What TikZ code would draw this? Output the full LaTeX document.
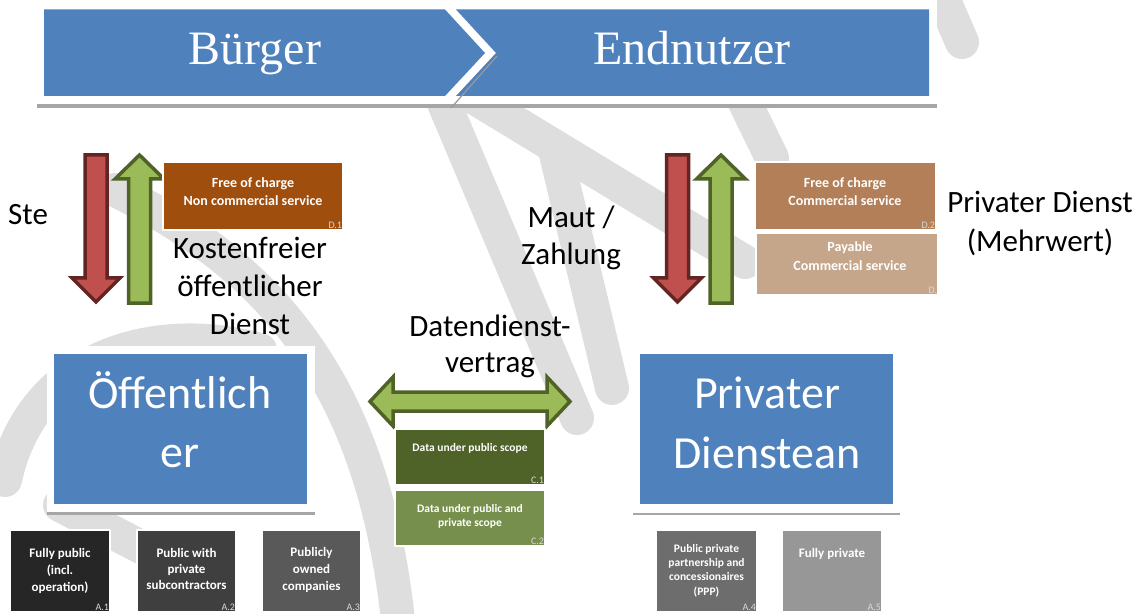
\documentclass[tikz,border=0pt]{standalone}
\usepackage{fontspec}
\setmainfont{Carlito}
\newfontfamily\bannerfont{Liberation Serif}
\definecolor{blue0}{HTML}{4F81BD}
\definecolor{redfill}{HTML}{C0504D}
\definecolor{redline}{HTML}{632523}
\definecolor{greenfill}{HTML}{9BBB59}
\definecolor{greenline}{HTML}{4F6228}
\definecolor{d1fill}{HTML}{A04E0E}
\definecolor{d2fill}{HTML}{B27F58}
\definecolor{d3fill}{HTML}{C6A68B}
\definecolor{c1fill}{HTML}{4F6228}
\definecolor{c2fill}{HTML}{778F4D}
\definecolor{a1fill}{HTML}{262626}
\definecolor{a2fill}{HTML}{3F3F3F}
\definecolor{a3fill}{HTML}{595959}
\definecolor{a4fill}{HTML}{6D6D6D}
\definecolor{a5fill}{HTML}{979797}
\definecolor{wmark}{HTML}{DEDEDE}
\begin{document}
\begin{tikzpicture}[x=1bp,y=-1bp,line join=bevel,
  wm/.style={draw=wmark,line width=34bp,line cap=round},
  tile/.style={draw=white,line width=1.5bp,inner sep=0pt},
  tiletext/.style={text=white,align=center,anchor=base,inner sep=0pt},
  tag/.style={text=white!85!black,font=\fontsize{10bp}{10bp}\selectfont,anchor=south east,inner sep=1.5bp},
  bigtext/.style={text=black,align=center,anchor=base,inner sep=0pt,font=\fontsize{31bp}{38bp}\selectfont},
  redarrow/.style={fill=redfill,draw=redline,line width=3.5bp,line join=miter},
  greenarrow/.style={fill=greenfill,draw=greenline,line width=3.5bp,line join=miter},
]
\useasboundingbox (0,0) rectangle (1143,614);
%% watermark
\draw [wm] (115,190) .. controls (300,280) and (380,420) .. (400,640);
\draw [wm] (5,480) .. controls (30,360) and (150,320) .. (260,350);
\draw [wm] (60,505) -- (205,580);
\draw [wm] (430,70) -- (577,418);
\draw [wm] (470,95) -- (745,262);
\draw [wm] (555,150) -- (612,388);
\draw [wm] (690,-10) -- (772,158);
\draw [wm] (935,-20) -- (962,42);
\draw [wm] (590,-20) -- (610,30);
%% banner
\fill [gray!70] (37,100) rectangle (937,108);
\fill [white] (37,-5) rectangle (937,104);
\fill [blue0] (44,9.5) -- (445,9.5) -- (485,53) -- (445,96) -- (44,96) -- cycle;
\fill [blue0] (456,9.5) -- (929,9.5) -- (929,96) -- (456,96) -- (496,53) -- cycle;
\draw [gray!80,line width=1.2bp] (497,56) -- (451,108);
\node (buerger) at (255,65) [text=white,anchor=base,inner sep=0pt,font=\bannerfont\fontsize{48bp}{48bp}\selectfont] {Bürger};
\node (endnutzer) at (692,65) [text=white,anchor=base,inner sep=0pt,font=\bannerfont\fontsize{48bp}{48bp}\selectfont] {Endnutzer};
%% arrows between users and providers
\draw [redarrow,shift={(96,0)}] (-11,155) -- (11,155) -- (11,278) -- (24,278) -- (0,302) -- (-24,278) -- (-11,278) -- cycle;
\draw [greenarrow,shift={(139.5,0)}] (-11,303) -- (11,303) -- (11,179) -- (24.5,179) -- (0,155) -- (-24.5,179) -- (-11,179) -- cycle;
\draw [redarrow,shift={(677.5,0)}] (-11,155) -- (11,155) -- (11,278) -- (24,278) -- (0,302) -- (-24,278) -- (-11,278) -- cycle;
\draw [greenarrow,shift={(721,0)}] (-11,303) -- (11,303) -- (11,179) -- (24.5,179) -- (0,155) -- (-24.5,179) -- (-11,179) -- cycle;
%% service tiles
\node (d_1) at (253,196) [tile,fill=d1fill,minimum width=180bp,minimum height=68bp] {};
\node (d_1_text) at (253,206) [tiletext,font=\bfseries\fontsize{14bp}{18bp}\selectfont] {Free of charge\\Non commercial service};
\node (d_1_tag) at (d_1.south east) [tag] {D.1};
\node (d_2) at (845.5,196) [tile,fill=d2fill,minimum width=181bp,minimum height=68bp] {};
\node (d_2_text) at (845,206) [tiletext,font=\bfseries\fontsize{14bp}{18bp}\selectfont] {Free of charge\\Commercial service};
\node (d_2_tag) at (d_2.south east) [tag] {D.2};
\node (d_3) at (847,264) [tile,fill=d3fill,minimum width=182bp,minimum height=62bp] {};
\node (d_3_text) at (850,271) [tiletext,font=\bfseries\fontsize{14bp}{19bp}\selectfont] {Payable\\Commercial service};
\node (d_3_tag) at (d_3.south east) [tag] {D.};
%% labels
\node (ste) at (8,225) [bigtext,anchor=base west] {Ste};
\node (kostenfrei) at (250,335) [bigtext] {Kostenfreier\\öffentlicher\\Dienst};
\node (maut) at (571,265) [bigtext,font=\fontsize{31bp}{37bp}\selectfont] {Maut /\\Zahlung};
\node (mehrwert) at (1040,252) [bigtext,font=\fontsize{31bp}{39bp}\selectfont] {Privater Dienst\\(Mehrwert)};
\node (vertrag) at (490,372) [bigtext,font=\fontsize{31bp}{35bp}\selectfont] {Datendienst-\\vertrag};
%% providers
\fill [gray!70] (47,505) rectangle (315,515);
\node (oeff_frame) at (181,429) [fill=white,inner sep=0pt,minimum width=268bp,minimum height=166bp] {};
\node (oeff) at (180.5,429) [fill=blue0,inner sep=0pt,minimum width=253bp,minimum height=150bp] {};
\node (oeff_text) at (180,467) [tiletext,font=\fontsize{46bp}{59bp}\selectfont] {Öffentlich\\er};
\fill [gray!70] (633,505) rectangle (900,515);
\node (priv_frame) at (766.5,431) [fill=white,inner sep=0pt,minimum width=267bp,minimum height=163bp] {};
\node (priv) at (766.5,429) [fill=blue0,inner sep=0pt,minimum width=253bp,minimum height=150bp] {};
\node (priv_text) at (767,468) [tiletext,font=\fontsize{46bp}{60bp}\selectfont] {Privater\\Dienstean};
%% data contract
\draw [greenarrow] (370,401.5) -- (393,377) -- (393,392) -- (547,392) -- (547,377) -- (570,401.5) -- (547,426) -- (547,411) -- (393,411) -- (393,426) -- cycle;
\node (c_1) at (470,457) [tile,fill=c1fill,minimum width=150bp,minimum height=56bp] {};
\node (c_1_text) at (470,451) [tiletext,font=\bfseries\fontsize{11.5bp}{14bp}\selectfont] {Data under public scope};
\node (c_1_tag) at (c_1.south east) [tag] {C.1};
\node (c_2) at (470,518) [tile,fill=c2fill,minimum width=150bp,minimum height=56bp] {};
\node (c_2_text) at (470,526) [tiletext,font=\bfseries\fontsize{11.5bp}{14bp}\selectfont] {Data under public and\\private scope};
\node (c_2_tag) at (c_2.south east) [tag] {C.2};
%% operator models
\node (a_1) at (60,571) [tile,fill=a1fill,minimum width=100bp,minimum height=82bp] {};
\node (a_1_text) at (60,591) [tiletext,font=\bfseries\fontsize{13bp}{17bp}\selectfont] {Fully public\\(incl.\\operation)};
\node (a_1_tag) at (a_1.south east) [tag] {A.1};
\node (a_2) at (186.5,571) [tile,fill=a2fill,minimum width=99bp,minimum height=82bp] {};
\node (a_2_text) at (186.5,589) [tiletext,font=\bfseries\fontsize{13bp}{16bp}\selectfont] {Public with\\private\\subcontractors};
\node (a_2_tag) at (a_2.south east) [tag] {A.2};
\node (a_3) at (311.5,571) [tile,fill=a3fill,minimum width=99bp,minimum height=82bp] {};
\node (a_3_text) at (311.5,590) [tiletext,font=\bfseries\fontsize{13bp}{17bp}\selectfont] {Publicly\\owned\\companies};
\node (a_3_tag) at (a_3.south east) [tag] {A.3};
\node (a_4) at (706.5,571) [tile,fill=a4fill,minimum width=101bp,minimum height=82bp] {};
\node (a_4_text) at (706.5,595) [tiletext,font=\bfseries\fontsize{11.5bp}{14.3bp}\selectfont] {Public private\\partnership and\\concessionaires\\(PPP)};
\node (a_4_tag) at (a_4.south east) [tag] {A.4};
\node (a_5) at (832,571) [tile,fill=a5fill,minimum width=100bp,minimum height=82bp] {};
\node (a_5_text) at (832,557) [tiletext,font=\bfseries\fontsize{13bp}{17bp}\selectfont] {Fully private};
\node (a_5_tag) at (a_5.south east) [tag] {A.5};
%
\end{tikzpicture}
\end{document}
